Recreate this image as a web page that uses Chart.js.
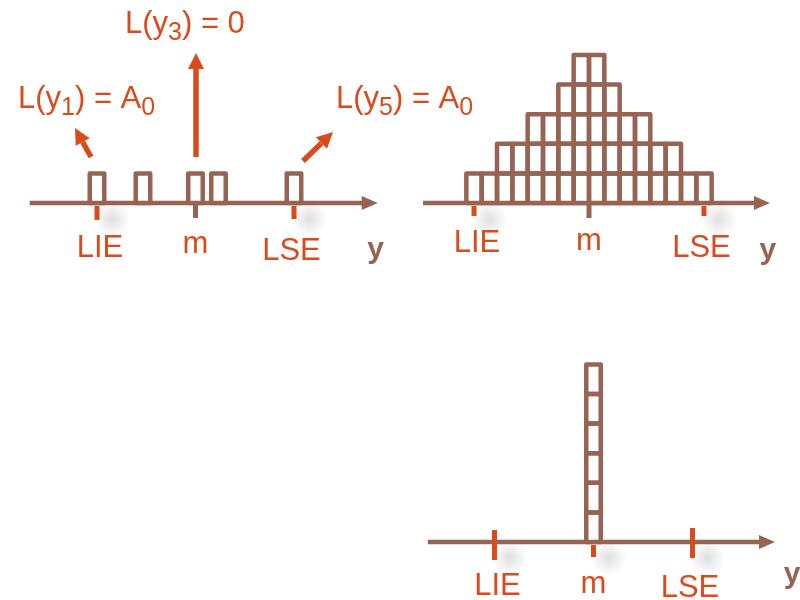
<!DOCTYPE html>
<html>
<head>
<meta charset="utf-8">
<script src="https://cdn.jsdelivr.net/npm/chart.js@4.4.1/dist/chart.umd.min.js"></script>
<style>
  html, body { margin: 0; padding: 0; background: #fff; }
  #wrap { position: relative; width: 800px; height: 600px; }
</style>
</head>
<body>
<div id="wrap"><canvas id="chart" width="800" height="600"></canvas></div>
<script>
// positions on the y axis: LIE = -3, m = 0, LSE = +3
var tickValues = [-3, 0, 3];
var tickLabels = ['LIE', 'm', 'LSE'];

// top left: five single products y1..y5
var samplesX = [-3, -1.6, 0, 0.7, 3];
var samplesCount = [1, 1, 1, 1, 1];

// top right: wide spread between the limits
var histX = [-3, -2.6, -2.2, -1.8, -1.4, -1, -0.6, -0.2, 0.2, 0.6, 1, 1.4, 1.8, 2.2, 2.6, 3];
var histCount = [1, 1, 2, 2, 3, 3, 4, 5, 5, 4, 3, 3, 2, 2, 1, 1];

// bottom right: all on target
var targetX = [0];
var targetCount = [6];

// loss labels (normal / subscript alternating)
var lossLabels = [
  ['L(y', '1', ') = A', '0'],
  ['L(y', '3', ') = 0'],
  ['L(y', '5', ') = A', '0']
];

var ORANGE = '#d84b1c';
var BROWN = '#976352';
var FONT = '"Liberation Sans", Arial, sans-serif';
var YUNIT = 29.6;

function xRange(zeroPx, unitPx) {
  return { min: -zeroPx / unitPx, max: (800 - zeroPx) / unitPx };
}
function yRange(zeroPx) {
  return { min: -(600 - zeroPx) / YUNIT, max: zeroPx / YUNIT };
}
function hiddenLinear(r) {
  return { type: 'linear', display: false, offset: false, min: r.min, max: r.max, ticks: { count: 2 } };
}

// one dataset per level so the boxes stack; not grouped, so each panel's
// bars sit exactly on their own x value
function boxLevels(xs, counts, xId, yId, maxWidth) {
  var top = Math.max.apply(null, counts);
  var sets = [];
  for (var k = 1; k <= top; k++) {
    var pts = [];
    for (var i = 0; i < xs.length; i++) {
      if (counts[i] >= k) pts.push({ x: xs[i], y: 1 });
    }
    var ds = {
      data: pts, xAxisID: xId, yAxisID: yId, stack: 'boxes', grouped: false,
      backgroundColor: '#fff', borderWidth: 0,
      barPercentage: 1, categoryPercentage: 1
    };
    if (maxWidth) ds.maxBarThickness = maxWidth;
    sets.push(ds);
  }
  return sets;
}

var panels = [
  { x: 'x1', y: 'yTop', from: -5.05, to: 5.55,
    ticks: [[ORANGE, 3, 17], [BROWN, 0, 15], [ORANGE, 3, 16]],
    textDy: [54, 50, 57], yText: [-2, 55] },
  { x: 'x2', y: 'yTop', from: -4.33, to: 4.72,
    ticks: [[ORANGE, 3, 13], [BROWN, 0, 15], [ORANGE, 3, 13]],
    textDy: [49, 47, 54], yText: [-2, 56] },
  { x: 'x3', y: 'yBot', from: -5.02, to: 5.5,
    ticks: [[ORANGE, -12, 18], [ORANGE, 3, 15], [ORANGE, -14, 16]],
    textDy: [53, 51, 55], yText: [17, 41] }
];
var textDx = [3, 0, -2.5];

var lossAt = [[18, 108], [125, 33], [336, 108]];
var lossArrows = [[91, 157, 75, 128], [196, 157, 196, 53], [303, 161, 333, 132]];

function arrow(ctx, x0, y0, x1, y1) {
  var a = Math.atan2(y1 - y0, x1 - x0), len = 16, hw = 8;
  var bx = x1 - len * Math.cos(a), by = y1 - len * Math.sin(a);
  ctx.lineWidth = 5.5;
  ctx.beginPath(); ctx.moveTo(x0, y0); ctx.lineTo(bx, by); ctx.stroke();
  ctx.beginPath();
  ctx.moveTo(x1, y1);
  ctx.lineTo(bx + hw * Math.sin(a), by - hw * Math.cos(a));
  ctx.lineTo(bx - hw * Math.sin(a), by + hw * Math.cos(a));
  ctx.closePath(); ctx.fill();
}

function drawLoss(ctx, parts, x, y) {
  parts.forEach(function (t, i) {
    var sub = i % 2 === 1;
    ctx.font = (sub ? 25 : 31) + 'px ' + FONT;
    ctx.fillText(t, x, y + (sub ? 7 : 0));
    x += ctx.measureText(t).width;
  });
}

var sketch = {
  id: 'sketch',
  beforeDatasetsDraw: function (chart) {
    var ctx = chart.ctx;
    ctx.save();
    panels.forEach(function (p) {
      var sx = chart.scales[p.x], sy = chart.scales[p.y];
      var y0 = sy.getPixelForValue(0);
      // soft shadow next to the orange ticks
      p.ticks.forEach(function (t, i) {
        if (t[0] !== ORANGE) return;
        var cx = sx.getPixelForValue(tickValues[i]) + 15, cy = y0 + 16;
        var g = ctx.createRadialGradient(cx, cy, 0, cx, cy, 18);
        g.addColorStop(0, 'rgba(0,0,0,0.12)');
        g.addColorStop(1, 'rgba(0,0,0,0)');
        ctx.fillStyle = g;
        ctx.fillRect(cx - 18, cy - 18, 36, 36);
      });
      var x0 = sx.getPixelForValue(p.from), x1 = sx.getPixelForValue(p.to);
      ctx.strokeStyle = BROWN; ctx.lineWidth = 4.5; ctx.lineCap = 'butt';
      ctx.beginPath(); ctx.moveTo(x0, y0); ctx.lineTo(x1 - 12, y0); ctx.stroke();
      ctx.fillStyle = BROWN;
      ctx.beginPath();
      ctx.moveTo(x1, y0); ctx.lineTo(x1 - 16, y0 - 7); ctx.lineTo(x1 - 16, y0 + 7);
      ctx.closePath(); ctx.fill();
    });
    ctx.restore();
  },
  afterDatasetsDraw: function (chart) {
    var ctx = chart.ctx;
    ctx.save();
    // box outlines share their edges
    ctx.strokeStyle = BROWN; ctx.lineWidth = 4.5; ctx.lineJoin = 'round';
    chart.getSortedVisibleDatasetMetas().forEach(function (meta) {
      meta.data.forEach(function (el) {
        var b = el.getProps(['x', 'y', 'base', 'width'], true);
        ctx.strokeRect(b.x - b.width / 2, b.y, b.width, b.base - b.y);
      });
    });

    panels.forEach(function (p) {
      var sx = chart.scales[p.x], sy = chart.scales[p.y];
      var y0 = sy.getPixelForValue(0);
      ctx.lineWidth = 5;
      ctx.textAlign = 'center';
      p.ticks.forEach(function (t, i) {
        var px = sx.getPixelForValue(tickValues[i]);
        ctx.strokeStyle = t[0];
        ctx.beginPath(); ctx.moveTo(px, y0 + t[1]); ctx.lineTo(px, y0 + t[2]); ctx.stroke();
        ctx.fillStyle = ORANGE;
        ctx.font = '31px ' + FONT;
        ctx.fillText(tickLabels[i], px + textDx[i], y0 + p.textDy[i]);
      });
      var xe = sx.getPixelForValue(p.to);
      ctx.fillStyle = BROWN;
      ctx.font = 'bold 30px ' + FONT;
      ctx.fillText('y', xe + p.yText[0], y0 + p.yText[1]);
    });

    ctx.fillStyle = ORANGE; ctx.strokeStyle = ORANGE;
    ctx.textAlign = 'left';
    lossLabels.forEach(function (parts, i) {
      drawLoss(ctx, parts, lossAt[i][0], lossAt[i][1]);
      var a = lossArrows[i];
      arrow(ctx, a[0], a[1], a[2], a[3]);
    });
    ctx.restore();
  }
};

var datasets = []
  .concat(boxLevels(samplesX, samplesCount, 'x1', 'yTop', 14.5))
  .concat(boxLevels(histX, histCount, 'x2', 'yTop'))
  .concat(boxLevels(targetX, targetCount, 'x3', 'yBot', 14.5));

new Chart(document.getElementById('chart'), {
  type: 'bar',
  data: { datasets: datasets },
  options: {
    responsive: false,
    animation: false,
    layout: { padding: 0 },
    plugins: { legend: { display: false }, tooltip: { enabled: false } },
    scales: {
      x1: hiddenLinear(xRange(195.5, 32.83)),
      x2: hiddenLinear(xRange(589, 38.33)),
      x3: hiddenLinear(xRange(593.5, 33)),
      yTop: hiddenLinear(yRange(203)),
      yBot: hiddenLinear(yRange(542))
    }
  },
  plugins: [sketch]
});
</script>
</body>
</html>
